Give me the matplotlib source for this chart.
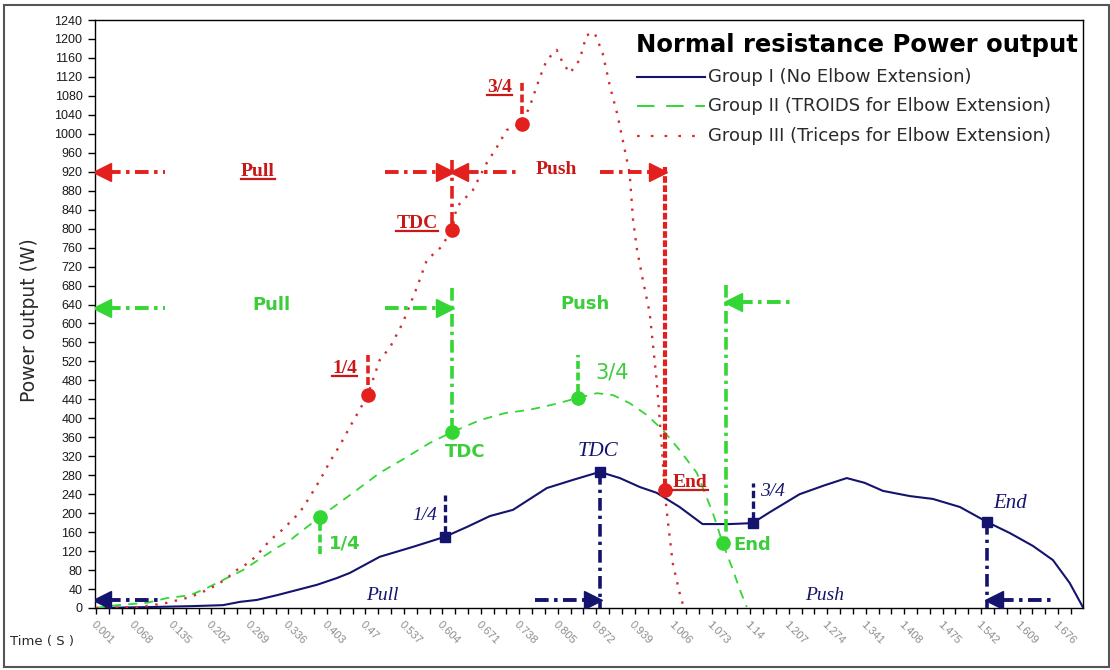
import matplotlib
matplotlib.use("Agg")
import matplotlib.pyplot as plt
from matplotlib.lines import Line2D
from matplotlib.patches import Rectangle
import numpy as np

# ---------------- data ----------------
time_g1 = [0.001, 0.095, 0.170, 0.222, 0.252, 0.281, 0.316, 0.351, 0.386, 0.420,
           0.443, 0.495, 0.553, 0.608, 0.647, 0.687, 0.727, 0.786, 0.831, 0.878,
           0.913, 0.948, 0.977, 1.017, 1.057, 1.104, 1.144, 1.174, 1.226, 1.270,
           1.308, 1.339, 1.371, 1.418, 1.458, 1.505, 1.553, 1.592, 1.632, 1.667,
           1.696, 1.719]
power_g1 = [0, 2, 4, 6, 13, 17, 27, 38, 49, 63,
            74, 108, 129, 150, 171, 194, 207, 253, 270, 287,
            274, 255, 243, 213, 177, 177, 179, 202, 240, 259,
            274, 264, 247, 236, 230, 213, 181, 158, 131, 101,
            53, 2]

time_g2 = [0.001, 0.038, 0.090, 0.125, 0.165, 0.194, 0.222, 0.257, 0.292, 0.316,
           0.339, 0.361, 0.391, 0.443, 0.495, 0.539, 0.582, 0.621, 0.669, 0.713,
           0.756, 0.800, 0.840, 0.873, 0.901, 0.930, 0.960, 0.988, 1.017, 1.047,
           1.075, 1.092, 1.110, 1.122, 1.134]
power_g2 = [0, 6, 11, 21, 27, 42, 59, 80, 108, 127,
            143, 164, 192, 238, 285, 316, 348, 371, 396, 411,
            418, 430, 443, 453, 449, 432, 407, 375, 333, 285,
            200, 137, 80, 38, 2]

time_g3 = [0.001, 0.078, 0.125, 0.165, 0.187, 0.212, 0.229, 0.246, 0.269, 0.286,
           0.304, 0.321, 0.339, 0.356, 0.373, 0.391, 0.408, 0.426, 0.443, 0.460,
           0.474, 0.495, 0.513, 0.535, 0.560, 0.577, 0.600, 0.621, 0.629, 0.657,
           0.681, 0.699, 0.716, 0.742, 0.756, 0.774, 0.786, 0.803, 0.814, 0.826,
           0.843, 0.855, 0.869, 0.883, 0.896, 0.908, 0.917, 0.930, 0.936, 0.943,
           0.953, 0.965, 0.977, 0.986, 0.991, 0.995, 1.005, 1.017, 1.024]
power_g3 = [0, 2, 11, 23, 34, 49, 63, 80, 97, 118,
            143, 160, 181, 202, 234, 270, 308, 344, 382, 418,
            449, 523, 550, 601, 677, 734, 759, 797, 846, 881,
            938, 972, 1008, 1021, 1057, 1120, 1156, 1177, 1149, 1128,
            1156, 1208, 1213, 1170, 1099, 1044, 993, 917, 818, 755,
            692, 622, 481, 340, 249, 200, 95, 32, 2]

# phase points: 1/4, TDC, 3/4, End
phase_labels = ["1/4", "TDC", "3/4", "End"]
g1_phase_t = [0.608, 0.878, 1.144, 1.553]
g1_phase_w = [150, 287, 179, 181]
g2_phase_t = [0.391, 0.621, 0.840, 1.092]
g2_phase_w = [192, 371, 443, 137]
g3_phase_t = [0.474, 0.621, 0.742, 0.991]
g3_phase_w = [449, 797, 1021, 249]

series_names = ["Group I (No Elbow Extension)",
                "Group II (TROIDS for Elbow Extension)",
                "Group III (Triceps for Elbow Extension)"]
x_tick_labels = ["0.001", "0.068", "0.135", "0.202", "0.269", "0.336", "0.403",
                 "0.47", "0.537", "0.604", "0.671", "0.738", "0.805", "0.872",
                 "0.939", "1.006", "1.073", "1.14", "1.207", "1.274", "1.341",
                 "1.408", "1.475", "1.542", "1.609", "1.676"]
title = "Normal resistance Power output"

# ---------------- styling ----------------
NAVY = "#14146e"
GREEN = "#33d633"
GREEN_T = "#3ccc3c"
RED = "#e3201e"
RED_T = "#c81818"
RED_LINE = "#d03030"

FW, FH = 1110, 670
fig = plt.figure(figsize=(FW / 100, FH / 100), dpi=100)
ax = fig.add_axes([95 / FW, 1 - 608 / FH, (1083 - 95) / FW, (608 - 20) / FH])
ax.set_xlim(-0.0007, 1.7193)
ax.set_ylim(0, 1240)

# ticks
major = [0.001 + 0.067 * i for i in range(len(x_tick_labels))]
minor = np.arange(0.001, 1.72, 0.067 / 3)
ax.set_xticks(major)
ax.set_xticklabels(x_tick_labels, rotation=-45, ha="left", va="top",
                   rotation_mode="anchor", fontsize=8, color="#8c8c8c",
                   family="Liberation Sans")
ax.set_xticks(minor, minor=True)
ax.tick_params(axis="x", which="both", direction="out", length=4, width=1.0,
               color="black", pad=4)
ax.set_yticks(np.arange(0, 1241, 40))
ax.tick_params(axis="y", direction="out", length=5, width=1.0, pad=4,
               labelsize=9, labelcolor="#1a1a1a")
for lab in ax.get_yticklabels():
    lab.set_family("Liberation Sans")
for s in ax.spines.values():
    s.set_linewidth(1.0)
    s.set_color("black")

# curves
l1, = ax.plot(time_g1, power_g1, color=NAVY, lw=1.5, zorder=3)
l2, = ax.plot(time_g2, power_g2, color=GREEN, lw=1.3, linestyle=(0, (5, 4)), zorder=3)
l3, = ax.plot(time_g3, power_g3, color=RED_LINE, lw=1.7, linestyle=(0, (1, 3.2)), zorder=3)

# phase markers
ax.plot(g3_phase_t, g3_phase_w, "o", color=RED, ms=9.5, zorder=5)
ax.plot(g2_phase_t, g2_phase_w, "o", color=GREEN, ms=9.5, zorder=5)
ax.plot(g1_phase_t, g1_phase_w, "s", color=NAVY, ms=7.5, zorder=5)

SPX = 1 / 574.6  # seconds per pixel
DD = (0, (3.5, 1.4, 0.9, 1.4))


def dd(x0, x1, y, color):
    ax.plot([x0, x1], [y, y], color=color, lw=2.8, linestyle=DD,
            dash_capstyle="butt", zorder=4)


def vdd(x, y0, y1, color, lw=2.6, ls=DD):
    ax.plot([x, x], [y0, y1], color=color, lw=lw, linestyle=ls,
            dash_capstyle="butt", zorder=4)


def tri(x_tip, y, direction, color):
    off = 7 * SPX
    xc = x_tip + off if direction == "<" else x_tip - off
    ax.plot([xc], [y], marker=direction, ms=12.5, color=color, mec=color, zorder=6)


underlined = []


def label(x, y, s, color, under=False, **kw):
    t = ax.text(x, y, s, color=color, ha="center", va="center", zorder=7, **kw)
    if under:
        underlined.append((t, color))
    return t


serif_b = dict(family="Liberation Serif", weight="bold", fontsize=14)
serif_i = dict(family="Liberation Serif", style="italic", fontsize=14)
sans_b = dict(family="DejaVu Sans", weight="bold", fontsize=13)

# ---- Group III (red) annotations ----
yr = 920
tri(0.0, yr, "<", RED); dd(0.020, 0.121, yr, RED)
label(0.283, yr, "Pull", RED_T, under=True, **serif_b)
dd(0.504, g3_phase_t[1] - 0.022, yr, RED); tri(g3_phase_t[1], yr, ">", RED)
tri(g3_phase_t[1], yr, "<", RED); dd(g3_phase_t[1] + 0.022, 0.739, yr, RED)
label(0.803, yr + 5, "Push", RED_T, **serif_b)
dd(0.878, g3_phase_t[3] - 0.022, yr, RED); tri(g3_phase_t[3], yr, ">", RED)
vdd(g3_phase_t[1], 945, g3_phase_w[1], RED)
vdd(g3_phase_t[3], 930, g3_phase_w[3], RED, lw=3.0, ls=(0, (1.6, 0.6)))
vdd(g3_phase_t[0], g3_phase_w[0] + 22, g3_phase_w[0] + 85, RED, lw=2.6, ls=(0, (2.2, 1.0)))
vdd(g3_phase_t[2], g3_phase_w[2] + 20, g3_phase_w[2] + 92, RED, lw=2.6, ls=(0, (2.2, 1.0)))
label(0.434, 506, "1/4", RED_T, under=True, **serif_b)
label(0.560, 810, "TDC", RED_T, under=True, **serif_b)
label(0.704, 1097, "3/4", RED_T, under=True, **serif_b)
label(1.036, 264, "End", RED_T, under=True, **serif_b)

# ---- Group II (green) annotations ----
yg = 632
tri(0.0, yg, "<", GREEN); dd(0.020, 0.121, yg, GREEN)
label(0.307, yg + 6, "Pull", GREEN_T, **sans_b)
dd(0.504, g2_phase_t[1] - 0.022, yg, GREEN); tri(g2_phase_t[1], yg, ">", GREEN)
label(0.852, yg + 10, "Push", GREEN_T, **sans_b)
vdd(g2_phase_t[1], 675, g2_phase_w[1], GREEN)
vdd(g2_phase_t[3] + 0.005, 681, g2_phase_w[3], GREEN)
yg2 = 645
tri(g2_phase_t[3] + 0.005, yg2, "<", GREEN); dd(g2_phase_t[3] + 0.028, 1.218, yg2, GREEN)
vdd(g2_phase_t[0], g2_phase_w[0] - 12, g2_phase_w[0] - 80, GREEN, lw=2.6, ls=(0, (2.2, 1.0)))
vdd(g2_phase_t[2], g2_phase_w[2] + 12, g2_phase_w[2] + 90, GREEN, lw=2.6, ls=(0, (2.2, 1.0)))
label(0.434, 137, "1/4", GREEN_T, **sans_b)
label(0.643, 329, "TDC", GREEN_T, **sans_b)
label(0.899, 496, "3/4", GREEN_T, family="DejaVu Sans", fontsize=15)
label(1.143, 133, "End", GREEN_T, **sans_b)

# ---- Group I (navy) annotations ----
yb = 17
tri(0.0, yb, "<", NAVY); dd(0.020, 0.112, yb, NAVY)
label(0.500, 27, "Pull", NAVY, **serif_i)
dd(0.766, g1_phase_t[1] - 0.022, yb, NAVY); tri(g1_phase_t[1], yb, ">", NAVY)
vdd(g1_phase_t[1], g1_phase_w[1], 0, NAVY)
label(1.270, 27, "Push", NAVY, **serif_i)
vdd(g1_phase_t[3], g1_phase_w[3], 0, NAVY)
tri(g1_phase_t[3], yb, "<", NAVY); dd(g1_phase_t[3] + 0.022, 1.670, yb, NAVY)
vdd(g1_phase_t[0], g1_phase_w[0] + 8, g1_phase_w[0] + 88, NAVY, lw=2.4, ls=(0, (2.2, 1.0)))
vdd(g1_phase_t[2], g1_phase_w[2] + 8, g1_phase_w[2] + 85, NAVY, lw=2.4, ls=(0, (2.2, 1.0)))
label(0.574, 196, "1/4", NAVY, **serif_i)
label(0.875, 329, "TDC", NAVY, family="Liberation Serif", style="italic", fontsize=15)
label(1.178, 245, "3/4", NAVY, **serif_i)
label(1.592, 221, "End", NAVY, family="Liberation Serif", style="italic", fontsize=15)

# ---- title and legend (manual, figure pixels) ----
fig.text(1078 / FW, 1 - 45 / FH, title, ha="right", va="center",
         fontsize=17.5, weight="bold", family="DejaVu Sans", color="black")
leg_rows = [77, 106, 136]
leg_styles = [dict(color=NAVY, lw=1.5, linestyle="-"),
              dict(color=GREEN, lw=1.4, linestyle=(0, (9, 6))),
              dict(color=RED_LINE, lw=1.6, linestyle=(0, (1.2, 5)))]
for yy, st, name in zip(leg_rows, leg_styles, series_names):
    fig.add_artist(Line2D([637 / FW, 705 / FW], [1 - yy / FH] * 2,
                          transform=fig.transFigure, **st))
    fig.text(708 / FW, 1 - yy / FH, name, ha="left", va="center",
             fontsize=13, family="DejaVu Sans", color="#2a2a2a")

# axis titles
fig.text(30 / FW, 1 - 320 / FH, "Power output (W)", rotation=90, ha="center",
         va="center", fontsize=13.5, family="DejaVu Sans", color="#2a2a2a")
fig.text(10 / FW, 1 - 642 / FH, "Time ( S )", ha="left", va="center",
         fontsize=9.5, family="DejaVu Sans", color="#2a2a2a")

# outer chart frame
fig.add_artist(Rectangle((4 / FW, 3 / FH), (FW - 5) / FW, (FH - 8) / FH,
                         transform=fig.transFigure, fill=False,
                         ec="#555555", lw=1.5))

# underlines
fig.canvas.draw()
rend = fig.canvas.get_renderer()
for t, c in underlined:
    bb = t.get_window_extent(rend)
    fig.add_artist(Line2D([bb.x0 / FW, bb.x1 / FW], [(bb.y0 + 1) / FH] * 2,
                          transform=fig.transFigure, color=c, lw=1.6))

fig.savefig("out.png", dpi=100)
